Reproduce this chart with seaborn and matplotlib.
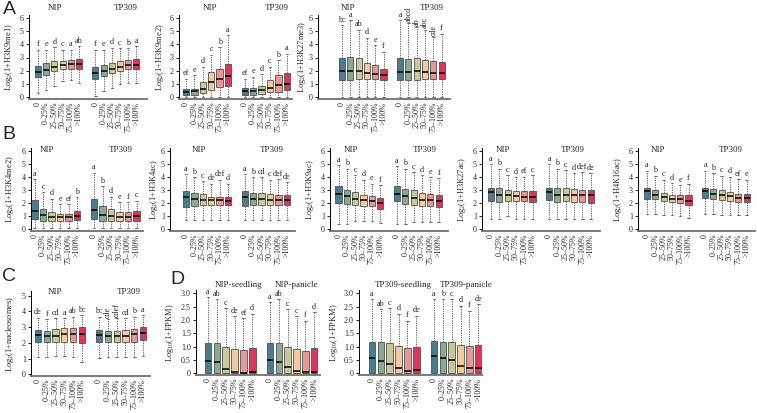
import numpy as np
import pandas as pd
import matplotlib
matplotlib.use("Agg")
import matplotlib.pyplot as plt
import matplotlib.transforms as mtransforms
import seaborn as sns

sns.set_theme(style="white")
plt.rcParams["font.family"] = ["Liberation Serif", "DejaVu Serif"]
plt.rcParams["mathtext.fontset"] = "custom"
plt.rcParams["mathtext.rm"] = "Liberation Serif"
plt.rcParams["mathtext.it"] = "Liberation Serif:italic"
plt.rcParams["mathtext.bf"] = "Liberation Serif:bold"

# ---------------- data ----------------
categories = ["0", "0–25%", "25–50%", "50–75%", "75–100%", ">100%"]
category_colors = ["#4C7D8C", "#8CAA91", "#C8C89B", "#F5C8A0", "#EB9696", "#DC375A"]
histone_groups = ["NIP", "TP309"]
nip_expr_groups = ["NIP-seedling", "NIP-panicle"]
tp309_expr_groups = ["TP309-seedling", "TP309-panicle"]

# each box: (lower whisker, Q1, median, Q3, upper whisker); 6 boxes of group 1 then 6 of group 2
h3k9me1_stats = [
    (0.30, 1.50, 1.90, 2.35, 3.60), (0.50, 1.65, 2.05, 2.55, 3.60), (0.85, 1.95, 2.30, 2.70, 3.80),
    (1.20, 2.15, 2.45, 2.75, 3.60), (1.30, 2.15, 2.50, 2.80, 3.60), (1.10, 2.15, 2.50, 2.90, 3.85),
    (0.05, 1.40, 1.85, 2.30, 3.60), (0.45, 1.60, 1.95, 2.40, 3.60), (0.70, 1.80, 2.15, 2.55, 3.75),
    (1.00, 1.95, 2.30, 2.70, 3.70), (1.10, 2.10, 2.40, 2.80, 3.70), (1.05, 2.10, 2.45, 2.85, 3.85)]
h3k9me1_letters = ["f", "e", "d", "c", "a", "ab", "f", "e", "d", "c", "b", "a"]

h3k9me2_stats = [
    (0, 0.13, 0.38, 0.64, 1.40), (0, 0.18, 0.43, 0.64, 1.66), (0, 0.30, 0.62, 1.15, 2.30),
    (0, 0.56, 1.15, 1.90, 3.20), (0, 0.77, 1.40, 2.10, 3.80), (0, 0.82, 1.58, 2.47, 4.70),
    (0, 0.13, 0.43, 0.71, 1.40), (0, 0.13, 0.43, 0.71, 1.53), (0, 0.20, 0.51, 0.82, 1.73),
    (0, 0.38, 0.71, 1.27, 2.30), (0, 0.38, 0.94, 1.66, 2.80), (0, 0.51, 1.02, 1.84, 3.30)]
h3k9me2_letters = ["ef", "e", "d", "c", "b", "a", "ef", "e", "d", "c", "b", "a"]

h3k27me3_stats = [
    (0, 1.26, 1.94, 2.97, 5.45), (0, 1.26, 1.94, 3.07, 5.85), (0, 1.39, 1.94, 2.97, 5.10),
    (0, 1.33, 1.81, 2.60, 4.50), (0, 1.33, 1.76, 2.40, 3.95), (0, 1.26, 1.64, 2.14, 3.45),
    (0, 1.26, 1.89, 2.97, 5.85), (0, 1.31, 1.89, 2.90, 5.60), (0, 1.31, 1.94, 2.97, 5.30),
    (0, 1.33, 1.89, 2.82, 5.10), (0, 1.33, 1.84, 2.77, 4.55), (0, 1.33, 1.81, 2.64, 4.80)]
h3k27me3_letters = ["bc", "a", "ab", "d", "e", "f", "a", "abcd", "ab", "abc", "cde", "f"]

h3k4me2_stats = [
    (0.15, 0.78, 1.45, 2.22, 3.85), (0.15, 0.65, 1.08, 1.60, 2.85), (0.15, 0.65, 0.98, 1.33, 2.35),
    (0.15, 0.65, 0.98, 1.20, 1.95), (0.15, 0.65, 0.98, 1.20, 1.95), (0.15, 0.70, 1.00, 1.40, 2.45),
    (0.15, 0.78, 1.50, 2.35, 4.35), (0.15, 0.65, 1.13, 1.80, 3.30), (0.15, 0.65, 1.00, 1.60, 2.50),
    (0.15, 0.65, 0.96, 1.33, 2.10), (0.15, 0.65, 0.96, 1.33, 2.10), (0.15, 0.65, 1.00, 1.40, 2.20)]
h3k4me2_letters = ["a", "c", "d", "e", "ef", "b", "a", "b", "d", "e", "f", "c"]

h3k4ac_stats = [
    (0.75, 1.70, 2.47, 2.95, 4.25), (0.75, 1.80, 2.34, 2.80, 4.00), (0.75, 1.89, 2.27, 2.72, 3.70),
    (0.75, 1.89, 2.22, 2.52, 3.50), (0.75, 1.89, 2.22, 2.52, 3.80), (0.75, 1.84, 2.20, 2.52, 3.50),
    (0.75, 1.76, 2.50, 2.95, 4.25), (0.75, 1.84, 2.34, 2.80, 4.00), (0.75, 1.84, 2.30, 2.77, 4.00),
    (0.75, 1.89, 2.27, 2.72, 3.80), (0.75, 1.89, 2.27, 2.60, 3.85), (0.75, 1.84, 2.27, 2.60, 3.60)]
h3k4ac_letters = ["a", "b", "c", "de", "def", "d", "a", "b", "cd", "c", "def", "de"]

h3k9ac_stats = [
    (0.43, 2.04, 2.72, 3.30, 4.90), (0.43, 1.98, 2.54, 3.05, 4.66), (0.64, 1.90, 2.34, 2.85, 4.15),
    (0.64, 1.83, 2.24, 2.60, 3.80), (0.64, 1.78, 2.16, 2.55, 3.50), (0.50, 1.58, 2.04, 2.42, 3.40),
    (0.45, 2.16, 2.75, 3.36, 4.85), (0.45, 1.98, 2.54, 3.10, 4.66), (0.60, 1.90, 2.42, 3.00, 4.40),
    (0.60, 1.83, 2.29, 2.80, 4.15), (0.60, 1.83, 2.29, 2.75, 4.00), (0.60, 1.73, 2.21, 2.67, 3.90)]
h3k9ac_letters = ["a", "b", "c", "d", "e", "f", "a", "b", "c", "d", "e", "f"]

h3k27ac_stats = [
    (0.82, 2.17, 2.86, 3.19, 4.98), (0.82, 2.10, 2.67, 3.19, 4.66), (1.00, 2.17, 2.60, 3.05, 4.15),
    (0.82, 2.17, 2.54, 2.93, 4.00), (0.82, 2.17, 2.49, 2.93, 4.05), (0.82, 2.10, 2.47, 2.93, 4.15),
    (0.82, 2.25, 2.86, 3.19, 4.98), (0.82, 2.10, 2.67, 3.19, 4.66), (0.82, 2.17, 2.67, 3.19, 4.55),
    (0.82, 2.10, 2.60, 3.10, 4.30), (0.82, 2.10, 2.60, 3.05, 4.40), (0.82, 2.04, 2.60, 3.05, 4.30)]
h3k27ac_letters = ["a", "b", "c", "d", "ef", "c", "a", "b", "c", "d", "def", "de"]

h4k16ac_stats = [
    (1.15, 2.34, 2.93, 3.19, 4.50), (1.15, 2.30, 2.67, 3.00, 4.10), (1.10, 2.16, 2.50, 2.80, 3.80),
    (1.10, 2.10, 2.34, 2.67, 3.55), (1.00, 2.04, 2.34, 2.60, 3.40), (0.90, 1.90, 2.20, 2.60, 3.50),
    (1.15, 2.42, 2.93, 3.19, 4.50), (1.15, 2.30, 2.75, 3.10, 4.30), (1.10, 2.22, 2.60, 3.00, 4.10),
    (1.10, 2.16, 2.54, 2.85, 4.05), (1.10, 2.10, 2.42, 2.75, 3.85), (1.10, 2.10, 2.42, 2.75, 3.80)]
h4k16ac_letters = ["a", "b", "c", "d", "e", "f", "a", "b", "c", "d", "ef", "e"]

nucleosome_stats = [
    (1.12, 2.08, 2.50, 2.82, 3.60), (1.12, 2.08, 2.44, 2.78, 3.50), (1.15, 2.08, 2.44, 2.86, 3.56),
    (1.15, 2.08, 2.56, 2.92, 3.56), (1.12, 2.08, 2.56, 2.92, 3.67), (0.80, 2.00, 2.56, 3.03, 3.77),
    (1.06, 2.08, 2.50, 2.82, 3.67), (1.12, 2.08, 2.44, 2.78, 3.50), (1.12, 2.08, 2.44, 2.78, 3.56),
    (1.12, 2.08, 2.44, 2.82, 3.56), (1.12, 2.08, 2.56, 2.86, 3.67), (1.15, 2.18, 2.65, 3.03, 3.77)]
nucleosome_letters = ["de", "f", "cd", "a", "ab", "bc", "bc", "cde", "cdef", "cd", "b", "a"]

nip_fpkm_stats = [
    (0, 0, 0.48, 1.15, 2.85), (0, 0, 0.41, 1.13, 2.79), (0, 0, 0.18, 0.98, 2.44),
    (0, 0, 0.04, 0.90, 2.14), (0, 0, 0.02, 0.86, 2.06), (0, 0, 0.05, 0.94, 2.23),
    (0, 0, 0.50, 1.13, 2.66), (0, 0, 0.44, 1.13, 2.79), (0, 0, 0.22, 0.98, 2.41),
    (0, 0, 0.09, 0.90, 2.14), (0, 0, 0.04, 0.85, 1.98), (0, 0, 0.04, 0.94, 2.29)]
nip_fpkm_letters = ["a", "ab", "c", "de", "ef", "d", "a", "ab", "c", "c", "f", "d"]

tp309_fpkm_stats = [
    (0, 0, 0.59, 1.19, 2.79), (0, 0, 0.46, 1.16, 2.41), (0, 0, 0.35, 1.15, 2.44),
    (0, 0, 0.19, 1.03, 2.23), (0, 0, 0.09, 0.94, 1.98), (0, 0, 0.13, 1.00, 2.16),
    (0, 0, 0.65, 1.21, 2.79), (0, 0, 0.56, 1.19, 2.79), (0, 0, 0.50, 1.16, 2.79),
    (0, 0, 0.28, 1.06, 2.54), (0, 0, 0.19, 1.03, 2.35), (0, 0, 0.19, 1.06, 2.60)]
tp309_fpkm_letters = ["a", "ab", "c", "d", "f", "de", "a", "b", "c", "d", "f", "de"]

# ---------------- layout ----------------
W, H = 757, 413
fig = plt.figure(figsize=(W / 100, H / 100), dpi=100)
palette = dict(zip(categories, category_colors))

rows = {
    "A": dict(tick0=97.0, toptick=18.0, topval=6.0, top=15, bottom=99, title_y=8,
              yticks=[0, 1, 2, 3, 4, 5, 6], ylabs=["0", "1", "2", "3", "4", "5", "6"]),
    "B": dict(tick0=229.5, toptick=151.0, topval=6.0, top=148, bottom=231, title_y=150,
              yticks=[0, 1, 2, 3, 4, 5, 6], ylabs=["0", "1", "2", "3", "4", "5", "6"]),
    "C": dict(tick0=374.3, toptick=295.7, topval=5.0, top=291, bottom=376, title_y=292,
              yticks=[0, 1, 2, 3, 4, 5], ylabs=["0", "1", "2", "3", "4", "5"]),
    "D": dict(tick0=373.3, toptick=293.3, topval=3.0, top=290, bottom=375, title_y=285,
              yticks=[0, 0.5, 1, 1.5, 2, 2.5, 3], ylabs=["0", "0.5", "1.0", "1.5", "2.0", "2.5", "3.0"]),
}

panels = [
    # stats, letters, groups, ylabel, row, left, right, box0, slot, ylabel_x, title_x, rotated
    (h3k9me1_stats, h3k9me1_letters, histone_groups, r"Log$_2$(1+H3K9me1)", "A", 29, 147, 38, 8.2, 12, (2.1, 10.7), []),
    (h3k9me2_stats, h3k9me2_letters, histone_groups, r"Log$_2$(1+H3K9me2)", "A", 179, 292, 186, 8.4, 163, (2.9, 10.8), []),
    (h3k27me3_stats, h3k27me3_letters, histone_groups, r"Log$_2$(1+H3K27me3)", "A", 318, 450, 342, 8.3, 305, (0.7, 10.8), [7, 8, 9, 10]),
    (h3k4me2_stats, h3k4me2_letters, histone_groups, r"Log$_2$(1+H3K4me2)", "B", 31, 143, 34.5, 8.5, 13, (1.5, 10.1), []),
    (h3k4ac_stats, h3k4ac_letters, histone_groups, r"Log$_2$(1+H3K4ac)", "B", 170, 295, 186, 8.4, 157, (1.5, 10.2), []),
    (h3k9ac_stats, h3k9ac_letters, histone_groups, r"Log$_2$(1+H3K9ac)", "B", 330, 448, 338.5, 8.35, 313, (1.5, 10.3), []),
    (h3k27ac_stats, h3k27ac_letters, histone_groups, r"Log$_2$(1+H3K27ac)", "B", 482, 600, 491, 8.3, 465, (1.45, 9.8), []),
    (h4k16ac_stats, h4k16ac_letters, histone_groups, r"Log$_2$(1+H4K16ac)", "B", 638, 755, 647, 8.3, 620, (1.3, 10.1), []),
    (nucleosome_stats, nucleosome_letters, histone_groups, r"Log$_2$(1+nucleosomes)", "C", 31, 150, 38, 8.75, 13, (2.0, 10.4), [7, 8]),
    (nip_fpkm_stats, nip_fpkm_letters, nip_expr_groups, r"Log$_{10}$(1+FPKM)", "D", 196, 320, 208, 8.85, 173, (3.5, 10.05), []),
    (tp309_fpkm_stats, tp309_fpkm_letters, tp309_expr_groups, r"Log$_{10}$(1+FPKM)", "D", 359, 482, 372, 8.86, 337, (3.5, 10.6), []),
]


def make_frame(stats):
    recs = []
    for i, box in enumerate(stats):
        g, c = divmod(i, 6)
        for v in box:
            recs.append({"slot": c + 7 * g, "category": categories[c], "value": v})
    return pd.DataFrame(recs)


for stats, letters, groups, ylabel, row, left, right, box0, slot, ylab_x, title_x, rotated in panels:
    r = rows[row]
    ax = fig.add_axes([left / W, 1 - r["bottom"] / H, (right - left) / W, (r["bottom"] - r["top"]) / H])
    df = make_frame(stats)
    sns.boxplot(data=df, x="slot", y="value", hue="category", hue_order=categories,
                palette=palette, native_scale=True, dodge=False, width=0.74,
                whis=(0, 100), showfliers=False, saturation=1, linecolor="#505050",
                linewidth=0.6, legend=False, ax=ax,
                medianprops=dict(color="black", linewidth=1.1),
                whiskerprops=dict(color="#555555", linewidth=0.6, linestyle=(0, (1.6, 1.2))),
                capprops=dict(color="#555555", linewidth=0.6),
                capwidths=0.3)

    scale = (r["tick0"] - r["toptick"]) / r["topval"]
    ax.set_ylim(-(r["bottom"] - r["tick0"]) / scale, r["topval"] + (r["toptick"] - r["top"]) / scale)
    ax.set_xlim((left - box0) / slot, (right - box0) / slot)

    slots = [c + 7 * g for g in range(2) for c in range(6)]
    ax.set_xticks(slots)
    ax.set_xticklabels(categories * 2, rotation=90, fontsize=5.8)
    ax.tick_params(axis="x", length=0, pad=2)
    ax.set_yticks(r["yticks"])
    ax.set_yticklabels(r["ylabs"], fontsize=5.8)
    ax.tick_params(axis="y", left=True, length=2.5, width=0.6, pad=1.2, direction="out", color="black")
    ax.set_xlabel("")
    ax.set_ylabel(ylabel, fontsize=6)
    ax.yaxis.set_label_coords((ylab_x + 3.5 - left) / (right - left), 0.5)

    for s in ["top", "right"]:
        ax.spines[s].set_visible(False)
    ax.spines["left"].set_color("black")
    ax.spines["left"].set_linewidth(0.7)
    ax.spines["bottom"].set_color("#707070")
    ax.spines["bottom"].set_linewidth(1.3)
    ax.patch.set_alpha(0)

    for i, (box, letter) in enumerate(zip(stats, letters)):
        g, c = divmod(i, 6)
        ax.annotate(letter, (c + 7 * g, box[4]), xytext=(0, 1.0), textcoords="offset points",
                    ha="center", va="bottom", fontsize=5.9,
                    rotation=90 if i in rotated else 0, annotation_clip=False)

    trans = mtransforms.blended_transform_factory(ax.transData, fig.transFigure)
    for gname, tx in zip(groups, title_x):
        ax.text(tx, 1 - r["title_y"] / H, gname, transform=trans, ha="center", va="center",
                fontsize=6.5, clip_on=False)

for letter, x, y in [("A", 3, 1), ("B", 2, 126), ("C", 2, 268), ("D", 170, 271)]:
    fig.text(x / W, 1 - y / H, letter, fontsize=14, family="Liberation Sans", ha="left", va="top")

fig.savefig("out.png", dpi=100)
